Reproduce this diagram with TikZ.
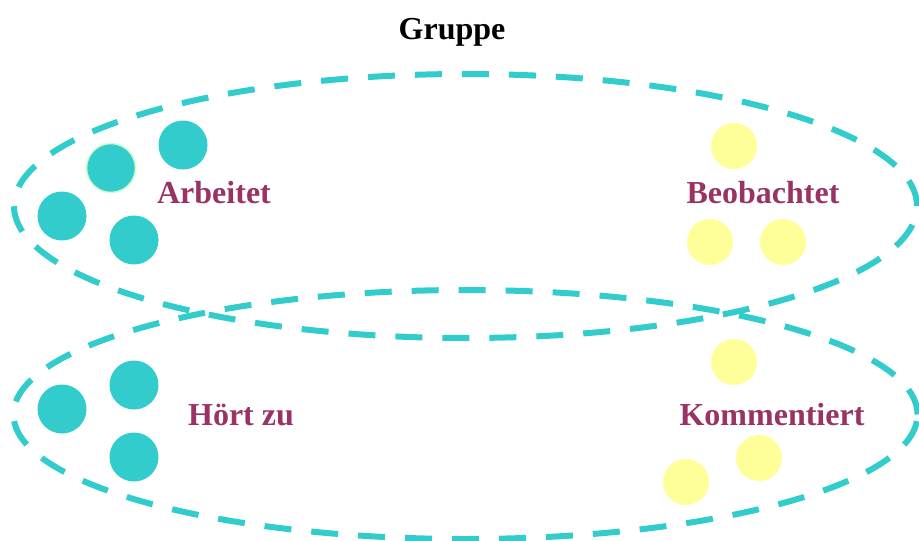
\documentclass[tikz,border=0pt]{standalone}
\usepackage{fontspec}
\setmainfont{Liberation Serif}
\usetikzlibrary{shapes.geometric}

\definecolor{teal}{HTML}{33CCCC}
\definecolor{pale}{HTML}{FFFF99}
\definecolor{plum}{HTML}{993366}
\definecolor{mint}{HTML}{CCFFCC}

\tikzset{
  group/.style={ellipse, draw=teal, line width=6pt, dash pattern=on 27pt off 20pt, inner sep=0pt},
  active/.style={circle, fill=teal, inner sep=0pt, minimum size=49pt},
  passive/.style={circle, fill=pale, inner sep=0pt, minimum size=46pt},
  role/.style={anchor=base, inner sep=0pt, text=plum, font=\fontsize{32}{38}\selectfont\bfseries}
}

\begin{document}
\begin{tikzpicture}[x=1pt, y=-1pt]
    \useasboundingbox (0,0) rectangle (919,541);

    \node[anchor=base, inner sep=0pt, font=\fontsize{32}{38}\selectfont\bfseries] (title) at (452,39) {Gruppe};

    % upper group
    \node[active] (arb1) at (183,145) {};
    \node[active, draw=mint, line width=1.5pt] (arb2) at (111,168) {};
    \node[active] (arb3) at (62,216) {};
    \node[active] (arb4) at (134,240) {};
    \node[role] (arbeitet) at (214,203) {Arbeitet};

    \node[passive] (beo1) at (734,146) {};
    \node[passive] (beo2) at (710,242) {};
    \node[passive] (beo3) at (783,242) {};
    \node[role] (beobachtet) at (763,203) {Beobachtet};

    % lower group
    \node[active] (hoer1) at (62,409) {};
    \node[active] (hoer2) at (134,385) {};
    \node[active] (hoer3) at (134,457) {};
    \node[role] (hoert) at (241,425) {Hört zu};

    \node[passive] (kom1) at (734,362) {};
    \node[passive] (kom2) at (759,458) {};
    \node[passive] (kom3) at (686,482) {};
    \node[role] (kommentiert) at (772,425) {Kommentiert};

    \node[group, minimum width=903pt, minimum height=264pt] (upper) at (465.5,206) {};
    \node[group, minimum width=904pt, minimum height=249pt] (lower) at (465.5,414.5) {};
\end{tikzpicture}
\end{document}
